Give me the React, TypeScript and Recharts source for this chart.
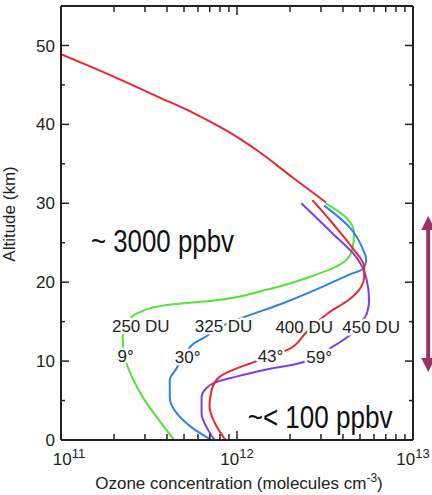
import React from 'react';
import { LineChart, Line, XAxis, YAxis, ReferenceDot } from 'recharts';

// axis ticks
const xDecades = [1e11, 1e12, 1e13];
const xTicks = [
  1e11, 2e11, 3e11, 4e11, 5e11, 6e11, 7e11, 8e11, 9e11,
  1e12, 2e12, 3e12, 4e12, 5e12, 6e12, 7e12, 8e12, 9e12, 1e13,
];
const yTicks = [0, 5, 10, 15, 20, 25, 30, 35, 40, 45, 50];

// ozone profiles, alt in km, c in molecules cm-3
const upperProfile = [
  { alt: 30.1, c: 3.21e12 },
  { alt: 33.3, c: 2.06e12 },
  { alt: 36.5, c: 1.34e12 },
  { alt: 39.2, c: 8.73e11 },
  { alt: 41.5, c: 5.6e11 },
  { alt: 43.4, c: 3.64e11 },
  { alt: 45.3, c: 2.37e11 },
  { alt: 47.2, c: 1.52e11 },
  { alt: 48.9, c: 1.0e11 },
];

const profile250 = [
  { alt: 0, c: 4.4e11 },
  { alt: 2.9, c: 3.5e11 },
  { alt: 5.4, c: 2.92e11 },
  { alt: 8.0, c: 2.53e11 },
  { alt: 10.5, c: 2.3e11 },
  { alt: 13.0, c: 2.24e11 },
  { alt: 14.9, c: 2.37e11 },
  { alt: 16.2, c: 2.8e11 },
  { alt: 17.1, c: 4.0e11 },
  { alt: 17.7, c: 7.6e11 },
  { alt: 19.0, c: 1.45e12 },
  { alt: 20.6, c: 2.54e12 },
  { alt: 22.4, c: 3.96e12 },
  { alt: 24.1, c: 4.51e12 },
  { alt: 26.2, c: 4.63e12 },
  { alt: 28.2, c: 4.17e12 },
  { alt: 30.0, c: 3.2e12 },
];

const profile325 = [
  { alt: 0, c: 7.15e11 },
  { alt: 1.5, c: 5.6e11 },
  { alt: 3.4, c: 4.54e11 },
  { alt: 5.4, c: 4.15e11 },
  { alt: 7.6, c: 4.15e11 },
  { alt: 9.1, c: 4.54e11 },
  { alt: 10.8, c: 5.04e11 },
  { alt: 12.3, c: 5.74e11 },
  { alt: 13.0, c: 6.54e11 },
  { alt: 14.4, c: 8.17e11 },
  { alt: 15.4, c: 1.05e12 },
  { alt: 17.3, c: 1.81e12 },
  { alt: 19.4, c: 3.05e12 },
  { alt: 20.9, c: 4.28e12 },
  { alt: 21.7, c: 5.2e12 },
  { alt: 22.8, c: 5.42e12 },
  { alt: 24.4, c: 5.14e12 },
  { alt: 27.0, c: 4.34e12 },
  { alt: 29.7, c: 3.13e12 },
];

const profile400 = [
  { alt: 0, c: 8.6e11 },
  { alt: 2.2, c: 7.46e11 },
  { alt: 4.2, c: 6.98e11 },
  { alt: 6.3, c: 7.17e11 },
  { alt: 8.0, c: 7.96e11 },
  { alt: 9.2, c: 1.03e12 },
  { alt: 9.7, c: 1.19e12 },
  { alt: 11.6, c: 2.01e12 },
  { alt: 13.5, c: 2.44e12 },
  { alt: 16.1, c: 3.3e12 },
  { alt: 17.7, c: 4.28e12 },
  { alt: 19.4, c: 5.07e12 },
  { alt: 20.6, c: 5.28e12 },
  { alt: 21.9, c: 5.28e12 },
  { alt: 24.4, c: 4.51e12 },
  { alt: 27.5, c: 3.48e12 },
  { alt: 30.4, c: 2.68e12 },
];

const profile450 = [
  { alt: 0, c: 7.46e11 },
  { alt: 1.6, c: 6.72e11 },
  { alt: 3.4, c: 6.29e11 },
  { alt: 5.4, c: 6.29e11 },
  { alt: 6.6, c: 6.72e11 },
  { alt: 7.3, c: 7.55e11 },
  { alt: 8.0, c: 9.8e11 },
  { alt: 8.9, c: 1.45e12 },
  { alt: 9.7, c: 2.23e12 },
  { alt: 11.8, c: 3.48e12 },
  { alt: 13.3, c: 4.39e12 },
  { alt: 14.9, c: 5.08e12 },
  { alt: 16.1, c: 5.48e12 },
  { alt: 17.7, c: 5.63e12 },
  { alt: 20.6, c: 5.42e12 },
  { alt: 23.2, c: 4.75e12 },
  { alt: 26.2, c: 3.48e12 },
  { alt: 30.0, c: 2.32e12 },
];

// curve labels (column total + latitude)
const curveLabels = [
  { text: '250 DU', c: 2.84e11, alt: 14.4 },
  { text: '325 DU', c: 8.39e11, alt: 14.4 },
  { text: '400 DU', c: 2.41e12, alt: 14.3 },
  { text: '450 DU', c: 5.78e12, alt: 14.3 },
  { text: '9°', c: 2.33e11, alt: 10.6 },
  { text: '30°', c: 5.24e11, alt: 10.5 },
  { text: '43°', c: 1.55e12, alt: 10.6 },
  { text: '59°', c: 2.93e12, alt: 10.5 },
];

const notes = [
  { text: '~ 3000 ppbv', c: 1.48e11, alt: 23.8, len: 143 },
  { text: '~< 100 ppbv', c: 1.15e12, alt: 1.5, len: 145 },
];

const INK = '#222';
const FONT = '"Liberation Sans", Arial, Helvetica, sans-serif';
const RED = '#e8262b';
const GREEN = '#55e23a';
const BLUE = '#2d82e0';
const PURPLE = '#7d3ee6';
const ARROW = '#993366';

const isDecade = (v: number) => xDecades.includes(v);

const BottomTick = ({ x, y, payload }: any) => {
  const major = isDecade(payload.value);
  const exp = Math.round(Math.log10(payload.value));
  const shift = payload.value === 1e11 ? 8 : 0;
  return (
    <g>
      <line x1={x} x2={x} y1={y} y2={y - (major ? 9 : 6)} stroke={INK} strokeWidth={1.5} />
      {major && (
        <text x={x + shift} y={y + 25} textAnchor="middle" fontSize={17} fill={INK} fontFamily={FONT}>
          10<tspan fontSize={13} dy={-7}>{exp}</tspan>
        </text>
      )}
    </g>
  );
};

const TopTick = ({ x, y, payload }: any) => (
  <line x1={x} x2={x} y1={y} y2={y + (isDecade(payload.value) ? 9 : 6)} stroke={INK} strokeWidth={1.5} />
);

const LeftTick = ({ x, y, payload }: any) => {
  const major = payload.value % 10 === 0;
  return (
    <g>
      <line x1={x} x2={x + (major ? 8 : 4)} y1={y} y2={y} stroke={INK} strokeWidth={1.5} />
      {major && (
        <text x={x - 6} y={y} dy="0.36em" textAnchor="end" fontSize={17} fill={INK} fontFamily={FONT}>
          {payload.value}
        </text>
      )}
    </g>
  );
};

const RightTick = ({ x, y, payload }: any) => (
  <line x1={x} x2={x - (payload.value % 10 === 0 ? 8 : 4)} y1={y} y2={y} stroke={INK} strokeWidth={1.5} />
);

const XTitle = ({ viewBox }: any) => (
  <text x={viewBox.x + viewBox.width / 2 + 2} y={viewBox.y + 49} textAnchor="middle" fontSize={17} fill={INK} fontFamily={FONT}>
    Ozone concentration (molecules cm<tspan fontSize={12} dy={-7}>-3</tspan><tspan dy={7}>)</tspan>
  </text>
);

const YTitle = () => (
  <text x={15} y={214} transform="rotate(-90, 15, 214)" textAnchor="middle" fontSize={17} fill={INK} fontFamily={FONT}>
    Altitude (km)
  </text>
);

const Arrow = ({ cx, cy }: any) => {
  const h = 78;
  const head = 14;
  const hw = 7;
  const sw = 2;
  const pts = [
    [cx, cy - h],
    [cx + hw, cy - h + head],
    [cx + sw, cy - h + head],
    [cx + sw, cy + h - head],
    [cx + hw, cy + h - head],
    [cx, cy + h],
    [cx - hw, cy + h - head],
    [cx - sw, cy + h - head],
    [cx - sw, cy - h + head],
    [cx - hw, cy - h + head],
  ];
  return <polygon points={pts.map((p) => p.join(',')).join(' ')} fill={ARROW} />;
};

const lineProps = {
  dataKey: 'c',
  type: 'monotone' as const,
  dot: false,
  activeDot: false,
  strokeWidth: 2,
  isAnimationActive: false,
};

export default function App() {
  return (
    <div style={{ position: 'absolute', left: 0, top: 0, background: '#fff' }}>
      <LineChart
        width={432}
        height={495}
        layout="vertical"
        margin={{ top: 0, right: 0, bottom: 0, left: 0 }}
        style={{ fontFamily: FONT }}
      >
        <XAxis
          type="number"
          dataKey="c"
          scale="log"
          domain={[1e11, 1e13]}
          allowDataOverflow
          ticks={xTicks}
          interval={0}
          height={55}
          tickSize={0}
          tickMargin={0}
          tickLine={false}
          tick={<BottomTick />}
          axisLine={{ stroke: INK, strokeWidth: 2 }}
          label={{ content: (p: any) => <XTitle {...p} /> }}
        />
        <XAxis
          xAxisId="top"
          orientation="top"
          type="number"
          dataKey="c"
          scale="log"
          domain={[1e11, 1e13]}
          allowDataOverflow
          ticks={xTicks}
          interval={0}
          height={6}
          tickSize={0}
          tickMargin={0}
          tickLine={false}
          tick={<TopTick />}
          axisLine={{ stroke: INK, strokeWidth: 2 }}
        />
        <YAxis
          type="number"
          dataKey="alt"
          domain={[0, 55]}
          reversed
          allowDataOverflow
          ticks={yTicks}
          interval={0}
          width={61}
          tickSize={0}
          tickMargin={0}
          tickLine={false}
          tick={<LeftTick />}
          axisLine={{ stroke: INK, strokeWidth: 2 }}
          label={{ content: () => <YTitle /> }}
        />
        <YAxis
          yAxisId="right"
          orientation="right"
          type="number"
          dataKey="alt"
          domain={[0, 55]}
          reversed
          allowDataOverflow
          ticks={yTicks}
          interval={0}
          width={19}
          tickSize={0}
          tickMargin={0}
          tickLine={false}
          tick={<RightTick />}
          axisLine={{ stroke: INK, strokeWidth: 2 }}
        />

        <Line {...lineProps} data={upperProfile} stroke={RED} />
        <Line {...lineProps} data={profile250} stroke={GREEN} />
        <Line {...lineProps} data={profile325} stroke={BLUE} />
        <Line {...lineProps} data={profile450} stroke={PURPLE} />
        <Line {...lineProps} data={profile400} stroke={RED} />

        {curveLabels.map((l) => (
          <ReferenceDot
            key={l.text}
            x={l.c}
            y={l.alt}
            r={0}
            shape={(p: any) => (
              <text
                x={p.cx}
                y={p.cy}
                dy="0.36em"
                textAnchor="middle"
                fontSize={17}
                fill={INK}
                fontFamily={FONT}
                stroke="#fff"
                strokeWidth={5}
                paintOrder="stroke"
                strokeLinejoin="round"
              >
                {l.text}
              </text>
            )}
          />
        ))}

        {notes.map((n) => (
          <ReferenceDot
            key={n.text}
            x={n.c}
            y={n.alt}
            r={0}
            shape={(p: any) => (
              <text
                x={p.cx}
                y={p.cy}
                fontSize={31}
                fill="#111"
                fontFamily='"Liberation Sans Narrow", "Arial Narrow", "Liberation Sans", sans-serif'
                textLength={n.len}
                lengthAdjust="spacingAndGlyphs"
              >
                {n.text}
              </text>
            )}
          />
        ))}

        <ReferenceDot x={1.22e13} y={18.5} r={0} ifOverflow="visible" shape={(p: any) => <Arrow {...p} />} />
      </LineChart>
    </div>
  );
}
